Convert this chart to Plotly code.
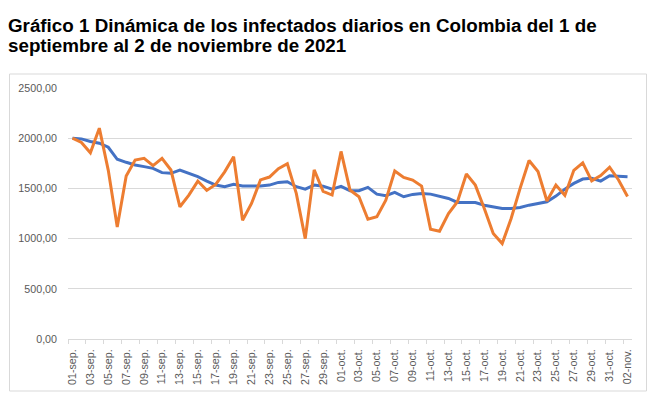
import plotly.graph_objects as go

# Categories (dates)
fechas = ([f"{d:02d}-sep." for d in range(1, 31)]
          + [f"{d:02d}-oct." for d in range(1, 32)]
          + ["01-nov.", "02-nov."])

# Daily infected (orange)
diarios = [2000, 1957, 1855, 2100, 1680, 1115, 1623, 1783, 1800, 1727,
           1800, 1683, 1317, 1433, 1573, 1480, 1540, 1665, 1815, 1183,
           1350, 1585, 1613, 1697, 1745, 1450, 1000, 1685, 1470, 1434,
           1868, 1484, 1417, 1193, 1217, 1383, 1673, 1610, 1583, 1523,
           1093, 1073, 1250, 1367, 1643, 1533, 1300, 1050, 950, 1200,
           1500, 1778, 1668, 1375, 1534, 1430, 1680, 1755, 1575, 1627,
           1711, 1584, 1420]

# Moving average (blue)
promedio = [2000, 1993, 1967, 1950, 1910, 1790, 1760, 1733, 1717, 1700,
            1657, 1650, 1683, 1650, 1617, 1573, 1533, 1517, 1540, 1523,
            1523, 1523, 1533, 1560, 1567, 1517, 1493, 1533, 1522, 1493,
            1520, 1477, 1477, 1510, 1443, 1427, 1460, 1417, 1440, 1450,
            1443, 1423, 1400, 1360, 1360, 1360, 1333, 1317, 1300, 1300,
            1310, 1333, 1350, 1367, 1423, 1493, 1550, 1593, 1600, 1573,
            1627, 1623, 1617]

y_ticks = [0, 500, 1000, 1500, 2000, 2500]
y_tick_labels = ["0,00", "500,00", "1000,00", "1500,00", "2000,00", "2500,00"]

titulo_1 = "Gráfico 1 Dinámica de los infectados diarios en Colombia del 1 de"
titulo_2 = "septiembre al 2 de noviembre de 2021"

idx = list(range(len(fechas)))

fig = go.Figure()
fig.add_trace(go.Scatter(x=idx, y=promedio, mode="lines", name="Promedio",
                         line=dict(color="#4472C4", width=3)))
fig.add_trace(go.Scatter(x=idx, y=diarios, mode="lines", name="Diarios",
                         line=dict(color="#ED7D31", width=3)))

# page offset of the plot div (default body margin)
OFF = 8
W, H = 661 - OFF, 399 - OFF
L = 68 - OFF
R = (661 - OFF) - (632 - OFF)
T = 88 - OFF
B = (399 - OFF) - (339 - OFF)
pw, ph = W - L - R, H - T - B

def px_x(p):  # page pixel -> paper
    return (p - OFF - L) / pw

def px_y(p):
    return (H - B - (p - OFF)) / ph

title_font = dict(size=18.8, color="#000000", family="Liberation Sans, Arial, sans-serif")
tick_font = dict(size=10.7, color="#595959", family="Liberation Sans, Arial, sans-serif")

fig.update_layout(
    width=W, height=H,
    margin=dict(l=L, r=R, t=T, b=B, pad=0, autoexpand=False),
    paper_bgcolor="white", plot_bgcolor="white",
    showlegend=False,
    font=dict(family="Liberation Sans, Arial, sans-serif", color="#595959", size=10),
    xaxis=dict(
        range=[-0.5, len(fechas) - 0.5],
        tickmode="array",
        tickvals=idx[::2],
        ticktext=fechas[::2],
        tickangle=-90,
        ticks="",
        ticklabelstandoff=5,
        showgrid=False,
        zeroline=False,
        automargin=False,
        showline=True, linecolor="#d9d9d9", linewidth=1,
        tickfont=tick_font,
        minor=dict(tickmode="linear", tick0=-0.5, dtick=2, ticks="outside",
                   ticklen=4, tickcolor="#d9d9d9", showgrid=False),
        fixedrange=True,
    ),
    yaxis=dict(
        range=[0, 2500],
        tickmode="array",
        tickvals=y_ticks,
        ticktext=y_tick_labels,
        showgrid=True, gridcolor="#d9d9d9", gridwidth=1,
        zeroline=False,
        showline=False,
        ticks="",
        automargin=False,
        ticklabelstandoff=10,
        tickfont=tick_font,
        fixedrange=True,
    ),
    shapes=[dict(type="rect", xref="paper", yref="paper",
                 x0=px_x(9.5), x1=px_x(646.5), y0=px_y(391), y1=px_y(74),
                 line=dict(color="#d9d9d9", width=1), fillcolor="rgba(0,0,0,0)",
                 layer="below")],
    annotations=[
        dict(text=f"<b>{titulo_1}</b>", xref="paper", yref="paper",
             x=px_x(6), y=px_y(38), xanchor="left", yanchor="bottom",
             showarrow=False, font=title_font),
        dict(text=f"<b>{titulo_2}</b>", xref="paper", yref="paper",
             x=px_x(6), y=px_y(58), xanchor="left", yanchor="bottom",
             showarrow=False, font=title_font),
    ],
)

fig.write_html("out.html")
